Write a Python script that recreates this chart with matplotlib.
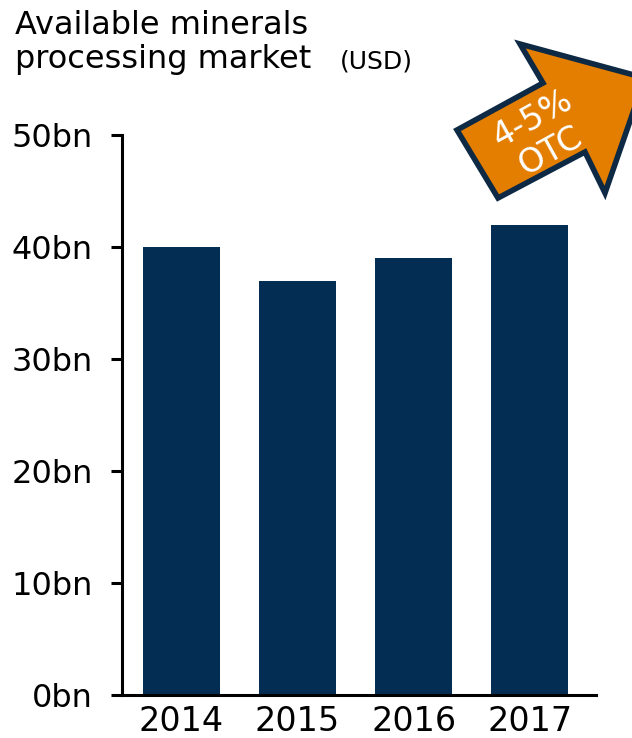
import matplotlib
matplotlib.use("Agg")
import matplotlib.pyplot as plt
from matplotlib.patches import Polygon

years = ["2014", "2015", "2016", "2017"]
market_bn = [40, 37, 39, 42]
yticks = [0, 10, 20, 30, 40, 50]
ytick_labels = ["0bn", "10bn", "20bn", "30bn", "40bn", "50bn"]

navy = "#032d52"
orange = "#e47e00"
outline = "#0d2944"

W, H = 632, 738
fig = plt.figure(figsize=(W / 100, H / 100), dpi=100)
ax = fig.add_axes([122 / W, 1 - 695 / H, (596 - 122) / W, (695 - 135) / H])

x = list(range(len(years)))
ax.bar(x, market_bn, width=0.66, color=navy)
ax.set_xlim(-0.51, 3.57)
ax.set_ylim(0, 50)
ax.set_yticks(yticks)
ax.set_yticklabels(ytick_labels, fontsize=23)
ax.set_xticks(x)
ax.set_xticklabels(years, fontsize=24)
ax.tick_params(axis="y", length=8, width=2.2, direction="out", pad=13)
ax.tick_params(axis="x", length=0, pad=7)
for s in ["top", "right"]:
  ax.spines[s].set_visible(False)
ax.spines["left"].set_linewidth(2.2)
ax.spines["bottom"].set_linewidth(2.2)

fig.text(15 / W, 1 - 34 / H, "Available minerals", fontsize=23, ha="left", va="baseline")
fig.text(15 / W, 1 - 68 / H, "processing market", fontsize=23, ha="left", va="baseline")
fig.text(340 / W, 1 - 68 / H, "(USD)", fontsize=18, ha="left", va="baseline")

# growth arrow, figure pixel coords
pts = [(457, 130), (543, 83), (520, 44), (645, 78), (605, 193), (585, 152), (498, 198)]
pts = [(px / W, 1 - py / H) for px, py in pts]
arrow = Polygon(pts, closed=True, facecolor=orange, edgecolor=outline, linewidth=4,
                joinstyle="miter", transform=fig.transFigure)
fig.patches.append(arrow)
fig.text(532 / W, 1 - 119 / H, "4-5%", fontsize=24, color="white", rotation=29,
         ha="center", va="center", rotation_mode="anchor")
fig.text(550 / W, 1 - 151 / H, "OTC", fontsize=24, color="white", rotation=29,
         ha="center", va="center", rotation_mode="anchor")

fig.savefig("out.png", dpi=100)
